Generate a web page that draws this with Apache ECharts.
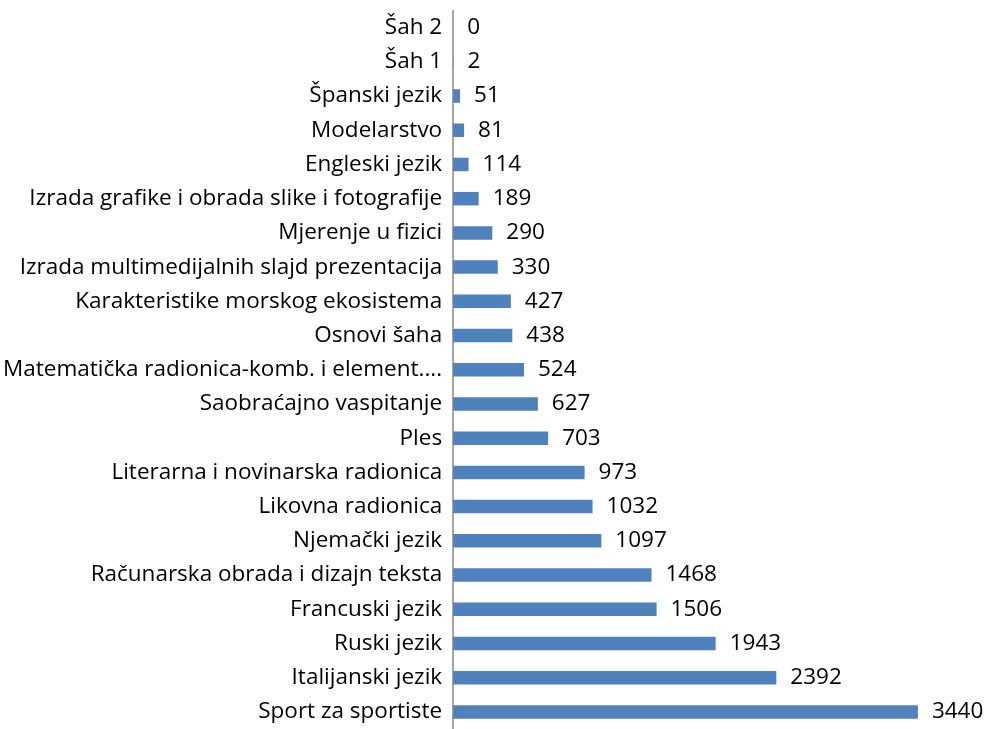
<!DOCTYPE html>
<html><head><meta charset="utf-8">
<script src="https://cdn.jsdelivr.net/npm/echarts@6/dist/echarts.min.js"></script>
<style>html,body{margin:0;padding:0;background:#fff}#c{width:989px;height:729px}</style>
</head><body><div id="c"></div>
<script>
// bottom to top
var categories = [
  "Sport za sportiste","Italijanski jezik","Ruski jezik","Francuski jezik",
  "Računarska obrada i dizajn teksta","Njemački jezik","Likovna radionica",
  "Literarna i novinarska radionica","Ples","Saobraćajno vaspitanje",
  "Matematička radionica-komb. i element....","Osnovi šaha",
  "Karakteristike morskog ekosistema","Izrada multimedijalnih slajd prezentacija",
  "Mjerenje u fizici","Izrada grafike i obrada slike i fotografije",
  "Engleski jezik","Modelarstvo","Španski jezik","Šah 1","Šah 2"
];
var values = [3440,2392,1943,1506,1468,1097,1032,973,703,627,524,438,427,330,290,189,114,81,51,2,0];

var chart = echarts.init(document.getElementById('c'));
chart.setOption({
  animation:false,
  textStyle:{fontFamily:'Open Sans'},
  grid:{left:452,right:63,top:10.5,bottom:-6,containLabel:false},
  xAxis:{type:'value',min:0,max:3500,show:false},
  yAxis:{type:'category',data:categories,
    axisLine:{show:true,lineStyle:{color:'#868686',width:1.5}},
    axisTick:{show:false},
    axisLabel:{color:'#000',fontSize:22.5,margin:11,fontFamily:'Open Sans'}
  },
  series:[{type:'bar',data:values,barWidth:13.5,
    itemStyle:{color:'#4F81BD'},
    label:{show:true,position:'right',distance:14,color:'#000',fontSize:22.5,fontFamily:'Open Sans'}
  }]
});
</script></body></html>
